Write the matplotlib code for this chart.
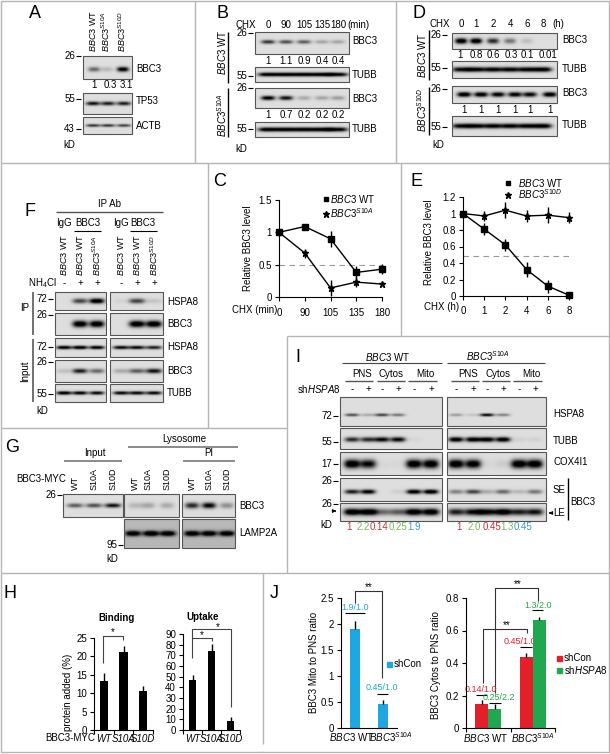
import numpy as np
import matplotlib
matplotlib.use('Agg')
import matplotlib.pyplot as plt

plt.rcParams['font.family'] = ['Liberation Sans', 'DejaVu Sans']
plt.rcParams['mathtext.fontset'] = 'custom'
plt.rcParams['mathtext.rm'] = 'Liberation Sans'
plt.rcParams['mathtext.it'] = 'Liberation Sans:italic'
plt.rcParams['mathtext.bf'] = 'Liberation Sans:bold'

WT = r'$\mathit{BBC3}$ WT'
S10A = r'$\mathit{BBC3}^{\mathit{S10A}}$'
S10D = r'$\mathit{BBC3}^{\mathit{S10D}}$'

# panel C
c_labels = ['0', '90', '105', '135', '180']
c_wt = [1, 1.09, 0.9, 0.38, 0.43]
c_wt_err = [0.04, 0.04, 0.12, 0.1, 0.08]
c_s10a = [1, 0.68, 0.14, 0.23, 0.2]
c_s10a_err = [0.05, 0.07, 0.13, 0.08, 0.02]

# panel E
e_labels = ['0', '1', '2', '4', '6', '8']
e_wt = [1, 0.81, 0.62, 0.32, 0.12, 0.01]
e_wt_err = [0, 0.07, 0.07, 0.09, 0.08, 0.03]
e_s10d = [1, 0.97, 1.04, 0.97, 0.98, 0.95]
e_s10d_err = [0, 0.06, 0.1, 0.07, 0.1, 0.07]

# panel H
h_labels = ['WT', 'S10A', 'S10D']
binding = [13.4, 21.2, 10.6]
binding_err = [2.2, 1.6, 1.3]
uptake = [47, 74, 8]
uptake_err = [5, 7, 4]

# panel J
j_labels = [WT, S10A]
mito = [1.91, 0.46]
mito_err = [0.14, 0.07]
cytos_con = [0.145, 0.44]
cytos_con_err = [0.03, 0.02]
cytos_sh = [0.115, 0.665]
cytos_sh_err = [0.03, 0.02]

# blot band strengths
a_bbc3 = [0.45, 0.15, 0.9]
a_tp53 = [0.8, 0.75, 0.75]
a_actb = [0.65, 0.65, 0.6]
b_values = [[1, 1.1, 0.9, 0.4, 0.4], [1, 0.7, 0.2, 0.2, 0.2]]
b_wt = [0.65, 0.55, 0.5, 0.22, 0.22]
b_s10a = [0.9, 0.8, 0.2, 0.22, 0.25]
b_tubb = [0.95, 0.95, 0.95, 0.95, 0.9]
d_values = ['1', '0.8', '0.6', '0.3', '0.1', '0.01']
d_wt = [1, 1, 0.7, 0.4, 0.12, 0]
d_s10d = [1, 0.95, 0.9, 0.9, 0.85, 0.95]
d_tubb = [0.85, 0.9, 0.9, 0.9, 0.9, 0.95]
f_rows_left = [[0, 0.6, 1], [0, 1, 1], [0.95, 1, 0.95], [0.12, 0.75, 0.45], [0.95, 0.9, 0.85]]
f_rows_right = [[0.04, 0.6, 0.1], [0, 1, 1], [0.85, 0.85, 0.75], [0.2, 0.5, 0.8], [0.85, 0.85, 0.85]]
g_input = [0.5, 0.55, 0.8]
g_lyso = [0.15, 0.22, 0.2]
g_pi = [0.7, 0.85, 0.3]
g_lamp_lyso = [0.85, 0.9, 0.85]
g_lamp_pi = [0.85, 0.85, 0.85]
i_rows_left = [[0.55, 0.2, 0.6, 0.4, 0, 0], [0.7, 0.7, 0.85, 0.85, 0.03, 0],
               [1, 0.85, 0.03, 0.03, 1, 1], [0.75, 0.9, 0, 0.06, 0.95, 1],
               [1, 1, 0.45, 0.5, 1, 1]]
i_rows_right = [[0.25, 0.1, 0.85, 0.35, 0, 0], [0.95, 0.95, 0.95, 0.95, 0.05, 0.05],
                [1, 0.95, 0.03, 0.07, 1, 1], [0.35, 0.6, 0.2, 0.45, 0.15, 0.4],
                [0.75, 0.85, 0.9, 1, 0.75, 0.8]]
i_left_vals = ['1', '2.2', '0.14', '0.25', '1.9']
i_right_vals = ['1', '2.0', '0.45', '1.3', '0.45']

W, H = 610, 754
fig = plt.figure(figsize=(W / 100, H / 100), dpi=100)
bg = fig.add_axes([0, 0, 1, 1])
bg.set_xlim(0, W)
bg.set_ylim(H, 0)
bg.axis('off')


def t(x, y, s, size=7, ha='left', va='center', **kw):
    bg.text(x, y, s, fontsize=size, ha=ha, va=va, **kw)


def rot(x, y, s, size=7, va='bottom'):
    bg.text(x, y, s, fontsize=size, rotation=90, ha='center', va=va)


def line(xs, ys, c='k', lw=0.8, **kw):
    bg.plot(xs, ys, color=c, lw=lw, solid_capstyle='butt', **kw)


def mw(x, y, s):
    # molecular weight marker with its dash
    t(x - 6, y, s, ha='right')
    line([x - 5, x], [y, y], lw=0.8)


def blot(x0, y0, x1, y1, lanes, dark, w=7, h=2.5, yc=0.5, base=0.87):
    nx = int((x1 - x0) * 3)
    ny = int((y1 - y0) * 3)
    xx, yy = np.meshgrid(np.linspace(x0, x1, nx), np.linspace(y0, y1, ny))
    img = np.full_like(xx, base)
    yb = y0 + yc * (y1 - y0)
    for lx, d in zip(lanes, dark):
        img -= d * np.exp(-np.abs((xx - lx) / w) ** 3 - ((yy - yb) / h) ** 2) * 1.05
    bg.imshow(np.clip(img, 0, 1), extent=(x0, x1, y1, y0), cmap='gray', vmin=0, vmax=1,
              aspect='auto', interpolation='bilinear', zorder=1)
    bg.add_patch(plt.Rectangle((x0, y0), x1 - x0, y1 - y0, fill=False, ec='#555555', lw=0.8, zorder=2))


def chart(x0, y0, x1, y1):
    ax = fig.add_axes([x0 / W, 1 - y1 / H, (x1 - x0) / W, (y1 - y0) / H])
    ax.patch.set_alpha(0)
    ax.spines['top'].set_visible(False)
    ax.spines['right'].set_visible(False)
    ax.tick_params(labelsize=7, length=3, width=0.8, pad=2)
    return ax


# panel borders
for xs, ys in [([1, 609, 609, 1, 1], [1, 1, 752, 752, 1]),
               ([195, 195], [1, 163]), ([396, 396], [1, 163]), ([1, 609], [163, 163]),
               ([208, 208], [163, 428]), ([401, 401], [163, 336]), ([287, 609], [336, 336]),
               ([287, 287], [336, 573]), ([1, 287], [428, 428]), ([1, 609], [573, 573]),
               ([263, 263], [573, 744])]:
    line(xs, ys, c='#b5b5b5', lw=1)

for s, x, y in [('A', 35, 14), ('B', 222, 14), ('D', 419, 14), ('C', 220, 181), ('E', 417, 181),
                ('F', 30, 211), ('G', 12, 448), ('H', 10, 593), ('I', 298, 358), ('J', 274, 593)]:
    t(x, y, s, size=13, ha='center')

# A
lanes = [94, 107, 123]
for x, s in zip(lanes, [WT, S10A, S10D]):
    rot(x - 1, 52, s, size=6.5)
blot(83, 56, 132, 79, lanes, a_bbc3, w=6, yc=0.58)
blot(83, 93, 132, 114, [93, 108, 124], a_tp53, w=7, h=2)
blot(83, 117, 132, 134, [93, 108, 124], a_actb, w=7, h=1.5)
for x, s in zip([94, 110, 126], ['1', '0.3', '3.1']):
    t(x, 85, s, ha='center')
mw(81, 56, '26')
mw(81, 99, '55')
mw(81, 129, '43')
t(136, 69, 'BBC3')
t(136, 101, 'TP53')
t(136, 126, 'ACTB')
t(63, 145, 'kD')

# B
lanes = [268, 286, 304, 322, 338]
t(235, 25, 'CHX')
for x, s in zip(lanes, ['0', '90', '105', '135', '180']):
    t(x, 25, s, ha='center')
t(347, 25, '(min)')
blot(255, 32, 349, 54, lanes, b_wt, w=7, h=2, yc=0.45)
blot(255, 67, 349, 82, lanes, b_tubb, w=10, h=2)
blot(255, 88, 349, 108, lanes, b_s10a, w=7, h=2.2, yc=0.5)
blot(255, 122, 349, 137, lanes, b_tubb, w=10, h=2.2)
for yv, vals in zip([61, 115], b_values):
    for x, v in zip(lanes, vals):
        t(x, yv, str(v), ha='center')
for y, s in zip([41, 75, 99, 129], ['BBC3', 'TUBB', 'BBC3', 'TUBB']):
    t(352, y, s)
for y, s in zip([33, 76, 88, 129], ['26', '55', '26', '55']):
    mw(253, y, s)
line([228, 228], [32, 83], lw=1)
line([228, 228], [88, 137], lw=1)
rot(222, 52, WT, va='center')
rot(222, 115, S10A, va='center')
t(235, 149, 'kD')

# D
lanes = [461, 476, 493, 510, 527, 543]
t(430, 24, 'CHX')
for x, s in zip(lanes, ['0', '1', '2', '4', '6', '8']):
    t(x, 24, s, ha='center')
t(552, 24, '(h)')
blot(452, 33, 557, 49, lanes, d_wt, w=6, h=2.8)
blot(452, 61, 557, 78, lanes, d_tubb, w=9, h=2.5)
blot(452, 86, 557, 103, [464, 481, 498, 515, 530, 550], d_s10d, w=7, h=2.5, yc=0.5)
blot(452, 116, 557, 136, lanes, d_tubb, w=9, h=2.5)
for x, s in zip([460, 476, 493, 511, 527, 548], d_values):
    t(x, 55, s, ha='center')
for x in [464, 481, 498, 515, 530, 550]:
    t(x, 110, '1', ha='center')
for y, s in zip([40, 69, 93, 125], ['BBC3', 'TUBB', 'BBC3', 'TUBB']):
    t(562, y, s)
for y, s in zip([35, 68, 89, 127], ['26', '55', '26', '55']):
    mw(447, y, s)
line([429, 429], [30, 80], lw=1)
line([429, 429], [87, 135], lw=1)
rot(422, 55, WT, va='center')
rot(422, 110, S10D, va='center')
t(432, 145, 'kD')

# F
t(110, 204, 'IP Ab', ha='center')
line([56, 163], [212, 212], c='#555555', lw=1)
for x, s in zip([64, 88, 121, 143], ['IgG', 'BBC3', 'IgG', 'BBC3']):
    t(x, 223, s, ha='center')
line([74, 101], [231, 231])
line([130, 157], [231, 231])
lanes_l = [64, 80, 97]
lanes_r = [121, 137, 154]
for x, s in zip(lanes_l + lanes_r, [WT, WT, S10A, WT, WT, S10D]):
    rot(x, 276, s, size=6.5)
t(28, 283, r'NH$_4$Cl')
for x, s in zip(lanes_l + lanes_r, ['-', '+', '+', '-', '+', '+']):
    t(x, 283, s, ha='center')
rows = [(292, 310), (313, 335), (338, 357), (360, 382), (384, 402)]
hs = [2.6, 3.4, 1.8, 2.4, 1.8]
for (y0, y1), dl, dr, h in zip(rows, f_rows_left, f_rows_right, hs):
    blot(55, y0, 106, y1, lanes_l, dl, w=7.5, h=h)
    blot(110, y0, 163, y1, lanes_r, dr, w=8, h=h)
for y, s in zip([302, 324, 347, 371, 393], ['HSPA8', 'BBC3', 'HSPA8', 'BBC3', 'TUBB']):
    t(167, y, s)
for y, s in zip([299, 315, 347, 362, 394], ['72', '26', '72', '26', '55']):
    mw(53, y, s)
line([33, 33], [292, 335], c='#666666', lw=1.3)
line([33, 33], [339, 402], c='#666666', lw=1.3)
t(25, 308, 'IP', ha='center')
rot(25, 371, 'Input', va='center')
t(36, 411, 'kD')

# C
ax = chart(279, 200, 382, 297)
x = np.arange(len(c_labels))
ax.axhline(0.5, color='#999999', lw=0.8, ls=(0, (5, 4)))
ax.errorbar(x, c_wt, yerr=c_wt_err, color='k', lw=1, marker='s', ms=4, clip_on=False)
ax.errorbar(x, c_s10a, yerr=c_s10a_err, color='k', lw=1, marker='*', ms=5, clip_on=False)
ax.set_xlim(0, 4)
ax.set_ylim(0, 1.5)
ax.set_xticks(x, c_labels)
ax.set_yticks([0, 0.5, 1, 1.5], ['0', '0.5', '1', '1.5'])
ax.tick_params(axis='x', pad=5)
ax.spines['bottom'].set_linewidth(0.8)
ax.spines['left'].set_linewidth(0.8)
t(232, 310, 'CHX (min)')
rot(248, 248, 'Relative BBC3 level', va='center')
bg.plot([326], [199], 's', color='k', ms=3.5)
bg.plot([326], [214], '*', color='k', ms=4.5)
t(330, 199, WT)
t(330, 213, S10A)

# E
ax = chart(463, 197, 569, 296)
x = np.arange(len(e_labels))
ax.plot([0, 5], [0.49, 0.49], color='#999999', lw=0.8, ls=(0, (5, 4)))
ax.errorbar(x, e_wt, yerr=e_wt_err, color='k', lw=1, marker='s', ms=4, clip_on=False)
ax.errorbar(x, e_s10d, yerr=e_s10d_err, color='k', lw=1, marker='*', ms=5, clip_on=False)
ax.set_xlim(0, 5)
ax.set_ylim(0, 1.2)
ax.set_xticks(x, e_labels)
ax.set_yticks([0, 0.2, 0.4, 0.6, 0.8, 1, 1.2], ['0', '0.2', '0.4', '0.6', '0.8', '1', '1.2'])
ax.tick_params(axis='x', pad=4)
t(424, 307, 'CHX (h)')
rot(429, 242, 'Relative BBC3 level', va='center')
bg.plot([508], [183], 's', color='k', ms=3.5)
bg.plot([508], [195], '*', color='k', ms=4.5)
t(518, 183, WT)
t(518, 194, S10D)

# G
t(95, 453, 'Input', ha='center')
line([64, 122], [461, 461], c='#777777', lw=1.2)
t(184, 439, 'Lysosome', ha='center')
line([128, 238], [447, 447], c='#777777', lw=1.2)
t(209, 453, 'PI', ha='center')
line([183, 235], [461, 461], c='#777777', lw=1.2)
t(16, 479, 'BBC3-MYC')
lanes_i = [75, 94, 113]
lanes_l = [135, 148, 167]
lanes_p = [192, 209, 227]
for x, s in zip(lanes_i + lanes_l + lanes_p, ['WT', 'S10A', 'S10D'] * 3):
    rot(x, 490, s, size=6.5)
blot(63, 494, 123, 517, lanes_i, g_input, w=8, h=2.2)
blot(124, 494, 179, 517, lanes_l, g_lyso, w=7, h=3)
blot(182, 494, 235, 517, lanes_p, g_pi, w=7, h=3)
blot(124, 519, 179, 548, [133, 151, 168], g_lamp_lyso, w=8, h=2.8, yc=0.5, base=0.72)
blot(182, 519, 235, 548, [192, 209, 227], g_lamp_pi, w=8, h=2.8, yc=0.5, base=0.72)
mw(62, 495, '26')
mw(123, 545, '95')
t(239, 506, 'BBC3')
t(239, 533, 'LAMP2A')
t(106, 559, 'kD')

# H
for box, vals, errs, ymax, yt in [((94, 638, 153, 730), binding, binding_err, 25, range(0, 30, 5)),
                                  ((183, 634, 240, 730), uptake, uptake_err, 90, range(0, 100, 10))]:
    ax = chart(*box)
    x = np.arange(3)
    ax.bar(x, vals, width=0.42, color='k', yerr=[[0] * 3, errs], ecolor='k', error_kw={'lw': 1})
    ax.set_xlim(-0.5, 2.5)
    ax.set_ylim(0, ymax)
    ax.set_yticks(list(yt))
    ax.set_xticks([-0.5, 0.5, 1.5, 2.5], [''] * 4)
    ax.set_xticks(x, h_labels, minor=True, style='italic')
    ax.tick_params(axis='x', which='minor', length=0, pad=3, labelsize=7)
t(117, 618, 'Binding', ha='center', fontweight='bold')
t(203, 617, 'Uptake', ha='center', fontweight='bold')
t(45, 738, 'BBC3-MYC')
rot(68, 692, 'protein added (%)', va='center')
line([103, 103, 123, 123], [663, 636, 636, 640], c='#444444')
t(113, 632, '*', ha='center')
line([192, 192, 231, 231], [658, 629, 629, 707], c='#444444')
line([192, 212, 212], [638, 638, 641], c='#444444')
t(202, 635, '*', ha='center')
t(218, 627, '*', ha='center')

# I
RED, GRN, BLU = '#c8323c', '#7ab55c', '#3a9ad0'
t(388, 357, WT, ha='center')
t(488, 356, S10A, ha='center')
line([342, 442], [363, 363], c='#444444')
line([447, 545], [363, 363], c='#444444')
for x, s in zip([362, 391, 425, 468, 498, 531], ['PNS', 'Cytos', 'Mito'] * 2):
    t(x, 374, s, ha='center')
for x0, x1 in [(345, 373), (377, 405), (408, 437), (451, 479), (482, 510), (513, 542)]:
    line([x0, x1], [381, 381], c='#555555', lw=1)
t(297, 389, r'sh$\mathit{HSPA8}$')
lanes_l = [352, 368, 382, 398, 414, 431]
lanes_r = [456, 473, 487, 503, 519, 535]
for x, s in zip(lanes_l + lanes_r, ['-', '+'] * 6):
    t(x, 389, s, ha='center')
rows = [(397, 426), (428, 449), (452, 475), (478, 501), (503, 521)]
ycs = [0.62, 0.55, 0.52, 0.6, 0.5]
ws = [7, 7.5, 8, 7.5, 8.5]
hs = [1.5, 2.5, 4.5, 2.3, 3.5]
for (y0, y1), dl, dr, yc, w, h in zip(rows, i_rows_left, i_rows_right, ycs, ws, hs):
    blot(340, y0, 442, y1, lanes_l, dl, w=w, h=h, yc=yc)
    blot(447, y0, 546, y1, lanes_r, dr, w=w, h=h, yc=yc)
for y, s in zip([416, 442, 464, 481, 504], ['72', '55', '17', '26', '26']):
    mw(338, y, s)
for y, s in zip([414, 441, 462], ['HSPA8', 'TUBB', 'COX4I1']):
    t(553, y, s)
t(553, 490, 'SE')
t(553, 513, 'LE')
line([568, 568], [478, 520], lw=1)
t(570, 502, 'BBC3')
bg.annotate('', xy=(339, 511), xytext=(332, 511), arrowprops=dict(arrowstyle='-|>', lw=0.7, color='k', mutation_scale=5))
bg.annotate('', xy=(546, 513), xytext=(553, 513), arrowprops=dict(arrowstyle='-|>', lw=0.7, color='k', mutation_scale=5))
t(320, 525, 'kD')
for x, s, c in zip([349, 363, 379, 398, 414], i_left_vals, [RED, GRN, RED, GRN, BLU]):
    t(x, 527, s, ha='center', color=c)
for x, s, c in zip([459, 474, 492, 507, 523], i_right_vals, [RED, GRN, RED, GRN, BLU]):
    t(x, 527, s, ha='center', color=c)

# J
BLUE, JRED, JGRN = '#1ea7e0', '#e3202a', '#1fa84f'
ax = chart(341, 598, 397, 728)
x = np.arange(2)
ax.bar(x, mito, width=0.39, color=BLUE, yerr=[[0, 0], mito_err], ecolor='k', error_kw={'lw': 1})
ax.set_xlim(-0.5, 1.5)
ax.set_ylim(0, 2.5)
ax.set_yticks([0, 0.5, 1, 1.5, 2, 2.5], ['0', '0.5', '1', '1.5', '2', '2.5'])
ax.set_xticks([])
t(329, 737, WT)
t(369, 737, S10A)
rot(314, 662, 'BBC3 Mito to PNS ratio', va='center')
t(355, 607, '1.9/1.0', ha='center', color=BLUE, size=6.5)
line([345, 365], [613, 613])
t(382, 688, '0.45/1.0', ha='center', color=BLUE, size=6.5)
line([377, 388], [694, 694])
line([355, 355, 382, 382], [603, 591, 591, 678], c='#333333')
t(369, 587, '**', ha='center')
bg.add_patch(plt.Rectangle((387, 662), 5, 5, color=BLUE))
t(394, 664, 'shCon')

ax = chart(466, 598, 555, 728)
off = 0.144
ax.bar(x - off, cytos_con, width=0.29, color=JRED, yerr=[[0, 0], cytos_con_err], ecolor='k', error_kw={'lw': 1})
ax.bar(x + off, cytos_sh, width=0.29, color=JGRN, yerr=[[0, 0], cytos_sh_err], ecolor='k', error_kw={'lw': 1})
ax.set_xlim(-0.5, 1.5)
ax.set_ylim(0, 0.8)
ax.set_yticks([0, 0.2, 0.4, 0.6, 0.8], ['0', '0.2', '0.4', '0.6', '0.8'])
ax.set_xticks([-0.5, 0.5, 1.5], [''] * 3)
t(486, 738, j_labels[0], ha='center')
t(533, 738, j_labels[1], ha='center')
rot(436, 665, 'BBC3 Cytos to PNS ratio', va='center')
for xc, y, s, c, x0, x1, yl in [(481, 690, '0.14/1.0', JRED, 476, 487, 695),
                                (499, 698, '0.25/2.2', JGRN, 489, 501, 703),
                                (520, 641, '0.45/1.0', JRED, 520, 532, 647),
                                (538, 606, '1.3/2.0', JGRN, 532, 543, 610)]:
    t(xc, y, s, ha='center', color=c, size=6.5)
    line([x0, x1], [yl, yl])
line([483, 483, 527, 527], [683, 629, 629, 633], c='#333333')
t(507, 625, '**', ha='center')
line([495, 495, 538, 538], [693, 588, 588, 601], c='#333333')
t(518, 584, '**', ha='center')
bg.add_patch(plt.Rectangle((557, 656), 5, 5, color=JRED))
bg.add_patch(plt.Rectangle((557, 668), 5, 5, color=JGRN))
t(564, 658, 'shCon')
t(564, 670, r'sh$\mathit{HSPA8}$')

bg.set_xlim(0, W)
bg.set_ylim(H, 0)
fig.savefig('out.png', dpi=100)
